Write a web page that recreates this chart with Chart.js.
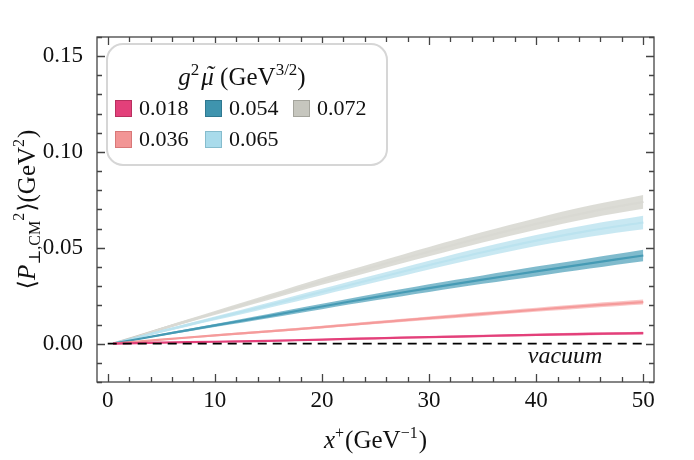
<!DOCTYPE html>
<html lang="en">
<head>
<meta charset="UTF-8">
<title>Transverse momentum broadening</title>
<script src="https://cdn.jsdelivr.net/npm/chart.js"></script>
<style>
  body { margin: 0; background: #fff; }
  #wrap { width: 694px; height: 460px; }
</style>
</head>
<body>
<div id="wrap"><canvas id="chart" width="694" height="460"></canvas></div>
<script>
// x+ (GeV^-1) sample points
const xs = [0.5, 5, 10, 15, 20, 25, 30, 35, 40, 45, 50];

// central values <P_perp,CM^2> (GeV^2), one array per g^2 mu~
const p018 = [0, 0.0005, 0.0010, 0.0015, 0.0021, 0.0028, 0.0034, 0.0040, 0.0046, 0.0051, 0.0055];
const p036 = [0, 0.0021, 0.0043, 0.0064, 0.0086, 0.0110, 0.0133, 0.0155, 0.0177, 0.0198, 0.0217];
const p054 = [0, 0.0046, 0.0095, 0.0144, 0.0194, 0.0243, 0.0290, 0.0334, 0.0377, 0.0419, 0.0460];
const p065 = [0, 0.0064, 0.0132, 0.0200, 0.0270, 0.0340, 0.0410, 0.0477, 0.0538, 0.0590, 0.0632];
const p072 = [0, 0.0077, 0.0160, 0.0242, 0.0325, 0.0403, 0.0480, 0.0555, 0.0625, 0.0688, 0.0740];

// half width of the uncertainty bands
const e018 = [0, 0.0002, 0.0003, 0.0004, 0.0004, 0.0005, 0.0005, 0.0006, 0.0006, 0.0007, 0.0007];
const e036 = [0, 0.0003, 0.0005, 0.0006, 0.0007, 0.0008, 0.0009, 0.0010, 0.0011, 0.0012, 0.0013];
const e054 = [0, 0.0005, 0.0008, 0.0011, 0.0014, 0.0017, 0.0020, 0.0022, 0.0025, 0.0027, 0.0030];
const e065 = [0, 0.0006, 0.0010, 0.0014, 0.0017, 0.0020, 0.0023, 0.0026, 0.0029, 0.0032, 0.0035];
const e072 = [0, 0.0006, 0.0010, 0.0014, 0.0018, 0.0021, 0.0024, 0.0027, 0.0030, 0.0033, 0.0036];

// vacuum reference
const vacX = [0, 50];
const vacY = [0, 0];

const labels = ['0.018', '0.036', '0.054', '0.065', '0.072'];
const xTicks = [0, 10, 20, 30, 40, 50];
const yTicks = [0, 0.05, 0.10, 0.15];

const lineColors = ['#e3407a', '#f29595', '#3f94ae', '#a9dbeb', '#c6c6be'];
const bandColors = ['rgba(227,64,122,0.55)', 'rgba(246,160,160,0.6)', 'rgba(74,158,184,0.7)',
                    'rgba(190,228,240,0.85)', 'rgba(218,218,212,0.95)'];
const swatchBorder = ['#b8305f', '#d87878', '#2f7890', '#86bccd', '#a4a49c'];

const SERIF = "'Liberation Serif', 'DejaVu Serif', serif";

function pts(x, y) { return x.map((v, i) => ({ x: v, y: y[i] })); }

const centers = [p018, p036, p054, p065, p072];
const errs = [e018, e036, e054, e065, e072];

const datasets = [{
    data: pts(vacX, vacY), borderColor: '#000', borderWidth: 1.7,
    borderDash: [9, 6], pointRadius: 0, fill: false
}];
for (let k = 0; k < centers.length; k++) {
    const c = centers[k], e = errs[k];
    datasets.push({
        data: pts(xs, c.map((v, i) => v + e[i])), borderWidth: 0, pointRadius: 0,
        backgroundColor: bandColors[k], fill: '+1', tension: 0.35
    });
    datasets.push({
        data: pts(xs, c.map((v, i) => v - e[i])), borderWidth: 0, pointRadius: 0,
        fill: false, tension: 0.35
    });
    datasets.push({
        data: pts(xs, c), borderColor: lineColors[k], borderWidth: 2.2, pointRadius: 0,
        fill: false, tension: 0.35
    });
}

// draws a run of text pieces (normal / italic / super / sub) starting or centred at x
function drawRuns(ctx, runs, x, y, align) {
    let w = 0;
    runs.forEach(r => {
        ctx.font = (r.it ? 'italic ' : '') + r.s + 'px ' + SERIF;
        r.w = ctx.measureText(r.t).width;
        w += r.w + (r.gap || 0);
    });
    let cx = align === 'center' ? x - w / 2 : x;
    ctx.textAlign = 'left';
    ctx.textBaseline = 'alphabetic';
    runs.forEach(r => {
        ctx.font = (r.it ? 'italic ' : '') + r.s + 'px ' + SERIF;
        ctx.fillText(r.t, cx, y + (r.dy || 0));
        if (r.tilde) {
            ctx.textAlign = 'center';
            ctx.fillText('\u02DC', cx + r.w / 2 + 2, y - 2);
            ctx.textAlign = 'left';
        }
        cx += r.w + (r.gap || 0);
    });
}

const decor = {
    id: 'decor',
    afterDatasetsDraw(chart) {
        const ctx = chart.ctx, a = chart.chartArea;
        const sx = chart.scales.x, sy = chart.scales.y;
        ctx.save();
        ctx.strokeStyle = '#444';
        ctx.lineWidth = 1.3;
        ctx.strokeRect(a.left, a.top, a.right - a.left, a.bottom - a.top);
        ctx.beginPath();
        for (let v = 0; v <= 50; v += 2) {
            const px = Math.round(sx.getPixelForValue(v)) + 0.5;
            const len = v % 10 === 0 ? 8 : 5;
            ctx.moveTo(px, a.bottom); ctx.lineTo(px, a.bottom - len);
            ctx.moveTo(px, a.top); ctx.lineTo(px, a.top + len);
        }
        for (let i = -2; i <= 16; i++) {
            const py = Math.round(sy.getPixelForValue(i / 100)) + 0.5;
            const len = i % 5 === 0 ? 8 : 5;
            ctx.moveTo(a.left, py); ctx.lineTo(a.left + len, py);
            ctx.moveTo(a.right, py); ctx.lineTo(a.right - len, py);
        }
        ctx.stroke();

        // vacuum label
        ctx.fillStyle = '#111';
        drawRuns(ctx, [{ t: 'vacuum', it: true, s: 24 }], sx.getPixelForValue(42.7), sy.getPixelForValue(-0.0103), 'center');
        ctx.restore();
    },
    afterDraw(chart) {
        const ctx = chart.ctx, a = chart.chartArea;
        ctx.save();
        ctx.fillStyle = '#111';

        // axis titles
        drawRuns(ctx, [
            { t: 'x', it: true, s: 25 }, { t: '+', s: 16, dy: -10, gap: 1 },
            { t: '(GeV', s: 25 }, { t: '\u22121', s: 16, dy: -10, gap: 1 }, { t: ')', s: 25 }
        ], (a.left + a.right) / 2, 448, 'center');

        ctx.translate(35, (a.top + a.bottom) / 2);
        ctx.rotate(-Math.PI / 2);
        drawRuns(ctx, [
            { t: '\u27E8', s: 24 }, { t: 'P', it: true, s: 25 }, { t: '\u22A5,CM', s: 16, dy: 5 },
            { t: '2', s: 16, dy: -11, gap: 1 }, { t: '\u27E9', s: 24 }, { t: '(GeV', s: 25 },
            { t: '2', s: 16, dy: -11, gap: 1 }, { t: ')', s: 25 }
        ], 0, 0, 'center');
        ctx.setTransform(1, 0, 0, 1, 0, 0);

        // legend box
        const bx = 107, by = 44, bw = 280, bh = 121;
        ctx.beginPath();
        ctx.roundRect(bx, by, bw, bh, 16);
        ctx.fillStyle = 'rgba(255,255,255,0.95)';
        ctx.fill();
        ctx.strokeStyle = '#d6d6d6';
        ctx.lineWidth = 2;
        ctx.stroke();

        ctx.fillStyle = '#111';
        drawRuns(ctx, [
            { t: 'g', it: true, s: 25 }, { t: '2', s: 17, dy: -10, gap: 2 }, { t: '\u03BC', it: true, s: 25, tilde: true },
            { t: ' (GeV', s: 25 }, { t: '3/2', s: 17, dy: -10 }, { t: ')', s: 25 }
        ], 242, 85, 'center');

        const pos = [[115, 100], [115, 131], [205, 100], [205, 131], [293, 100]];
        labels.forEach((lab, k) => {
            const [qx, qy] = pos[k];
            ctx.fillStyle = lineColors[k];
            ctx.fillRect(qx, qy, 17, 17);
            ctx.strokeStyle = swatchBorder[k];
            ctx.lineWidth = 1;
            ctx.strokeRect(qx + 0.5, qy + 0.5, 16, 16);
            ctx.fillStyle = '#111';
            drawRuns(ctx, [{ t: lab, s: 22 }], qx + 24, qy + 15, 'left');
        });
        ctx.restore();
    }
};

new Chart(document.getElementById('chart'), {
    type: 'line',
    data: { datasets: datasets },
    plugins: [decor],
    options: {
        responsive: false,
        animation: false,
        layout: { padding: { left: 0, top: 37, right: 40, bottom: 0 } },
        plugins: { legend: { display: false }, tooltip: { enabled: false } },
        scales: {
            x: {
                type: 'linear', min: -1, max: 51,
                afterBuildTicks: s => { s.ticks = xTicks.map(v => ({ value: v })); },
                afterFit: s => { s.height = 78; },
                grid: { display: false }, border: { display: false },
                ticks: { color: '#111', padding: -3, font: { family: SERIF, size: 23 }, callback: v => String(v) }
            },
            y: {
                min: -0.02, max: 0.16,
                afterBuildTicks: s => { s.ticks = yTicks.map(v => ({ value: v })); },
                afterFit: s => { s.width = 97; },
                grid: { display: false }, border: { display: false },
                ticks: { color: '#111', padding: 6, font: { family: SERIF, size: 23 }, callback: v => v.toFixed(2) }
            }
        }
    }
});
</script>
</body>
</html>
